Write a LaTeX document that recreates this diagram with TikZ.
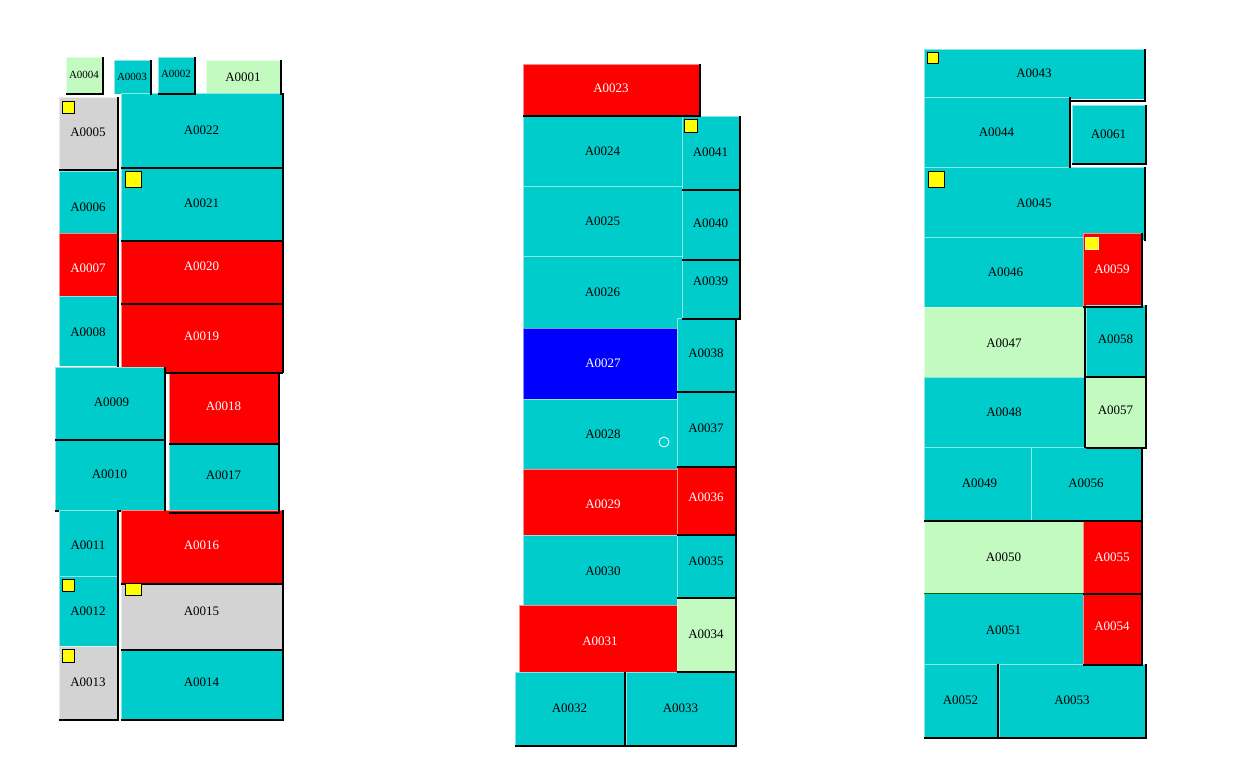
\documentclass[tikz,border=0pt]{standalone}
\usepackage{fontspec}
\setmainfont{Liberation Serif}
\definecolor{cyanc}{RGB}{0,204,204}
\definecolor{redc}{RGB}{255,0,0}
\definecolor{lgreen}{RGB}{194,250,192}
\definecolor{grayc}{RGB}{211,211,211}
\definecolor{bluec}{RGB}{0,0,255}
\definecolor{yell}{RGB}{255,255,0}
\pgfdeclarelayer{sh}
\pgfdeclarelayer{top}
\pgfsetlayers{main,sh,top}
\newcommand\lblsize{\fontsize{13}{15}\selectfont}
\tikzset{
  fcy/.style={fill=cyanc}, tcy/.style={text=black},
  frd/.style={fill=redc},  trd/.style={text=white},
  flg/.style={fill=lgreen},tlg/.style={text=black},
  fgy/.style={fill=grayc}, tgy/.style={text=black},
  fbl/.style={fill=bluec}, tbl/.style={text=white},
  hilite/.style={draw=white, draw opacity=0.55, line width=1pt},
  sdw/.style={draw=black, line width=2pt},
  lbl/.style={font=\lblsize, inner sep=0pt},
  marker/.style={draw=black, fill=yell, line width=0.8pt},
}
\newcommand\sdwRB[4]{\draw[sdw] (#3+1,#2) -- (#3+1,#4+1) -- (#1,#4+1);}
\newcommand\sdwR[4]{\draw[sdw] (#3+1,#2) -- (#3+1,#4+1);}
\newcommand\sdwB[4]{\draw[sdw] (#3+1,#4+1) -- (#1,#4+1);}
\newcommand\sdwG[4]{\draw[draw=green!40!black, line width=1pt] (#3,#4) -- (#1,#4);}
\newcommand\sdwN[4]{}
\newcommand\room[9]{%
  \fill[f#6] (#2,#3) rectangle (#4,#5);
  \draw[hilite] (#2+0.5,#5) -- (#2+0.5,#3+0.5) -- (#4,#3+0.5);
  \begin{pgfonlayer}{sh}\csname sdw#7\endcsname{#2}{#3}{#4}{#5}\end{pgfonlayer}%
  \begin{pgfonlayer}{top}\node[lbl,t#6] (#1) at ({(#2+#4)/2+#8},{(#3+#5)/2+#9}) {#1};\end{pgfonlayer}%
}
\begin{document}
\begin{tikzpicture}[x=1pt,y=-1pt]
\useasboundingbox[fill=white] (0,0) rectangle (1251,780);
% ---------- left block ----------
\renewcommand\lblsize{\fontsize{11}{13}\selectfont}
\room{A0004}{66}{57}{102}{93}{lg}{RB}{0}{0}
\room{A0003}{114}{60}{150}{94}{cy}{R}{0}{0}
\room{A0002}{158}{57}{194}{93}{cy}{RB}{0}{-1}
\renewcommand\lblsize{\fontsize{13}{15}\selectfont}
\room{A0001}{206}{60}{280}{94}{lg}{R}{0}{0}
\room{A0005}{59}{97}{117}{169}{gy}{RB}{0}{-1}
\room{A0022}{121}{93}{282}{167}{cy}{RB}{0}{0}
\room{A0021}{121}{167}{282}{240}{cy}{RB}{0}{0}
\room{A0006}{59}{171}{117}{233}{cy}{R}{0}{5}
\room{A0007}{59}{233}{117}{296}{rd}{R}{0}{4}
\room{A0020}{121}{240}{282}{303}{rd}{RB}{0}{-5}
\room{A0019}{121}{303}{282}{372}{rd}{R}{0}{-1}
\begin{pgfonlayer}{sh}\draw[sdw] (283,373) -- (164,373);\end{pgfonlayer}
\room{A0008}{59}{296}{117}{366}{cy}{R}{0}{1}
\room{A0009}{55}{367}{164}{439}{cy}{RB}{2}{-1}
\room{A0018}{169}{373}{278}{443}{rd}{RB}{0}{-2}
\room{A0010}{55}{439}{164}{510}{cy}{R}{0}{0}
\begin{pgfonlayer}{sh}\draw[sdw] (55,511) -- (59,511);\draw[sdw] (117,511) -- (121,511);\end{pgfonlayer}
\room{A0017}{169}{443}{278}{512}{cy}{RB}{0}{-2}
\room{A0011}{59}{510}{117}{576}{cy}{R}{0}{2}
\room{A0016}{121}{510}{282}{583}{rd}{RB}{0}{-1}
\room{A0012}{59}{576}{117}{646}{cy}{R}{0}{0}
\room{A0015}{121}{583}{282}{649}{gy}{RB}{0}{-5}
\room{A0013}{59}{646}{117}{719}{gy}{RB}{0}{0}
\room{A0014}{121}{649}{282}{719}{cy}{RB}{0}{-2}
% ---------- middle block ----------
\room{A0023}{523}{64}{699}{115}{rd}{RB}{0}{-1}
\room{A0024}{523}{115}{682}{186}{cy}{N}{0}{1}
\room{A0025}{523}{186}{682}{256}{cy}{N}{0}{0}
\room{A0026}{523}{256}{682}{328}{cy}{N}{0}{0}
\room{A0041}{682}{116}{739}{189}{cy}{RB}{0}{0}
\room{A0040}{682}{189}{739}{259}{cy}{RB}{0}{-1}
\room{A0039}{682}{259}{739}{318}{cy}{RB}{0}{-7}
\room{A0027}{523}{328}{677}{399}{bl}{N}{3}{0}
\room{A0038}{677}{318}{735}{391}{cy}{RB}{0}{-1}
\room{A0028}{523}{399}{677}{469}{cy}{N}{3}{0}
\room{A0037}{677}{391}{735}{466}{cy}{RB}{0}{0}
\room{A0029}{523}{469}{677}{535}{rd}{N}{3}{2}
\room{A0036}{677}{466}{735}{534}{rd}{RB}{0}{-3}
\room{A0030}{523}{535}{677}{605}{cy}{N}{3}{1}
\room{A0035}{677}{534}{735}{597}{cy}{RB}{0}{-4}
\room{A0031}{519}{605}{677}{672}{rd}{N}{2}{3}
\room{A0034}{677}{597}{735}{671}{lg}{RB}{0}{0}
\room{A0032}{515}{672}{624}{745}{cy}{RB}{0}{0}
\room{A0033}{626}{672}{735}{745}{cy}{RB}{0}{0}
% ---------- right block ----------
\room{A0043}{924}{49}{1144}{99}{cy}{R}{0}{-1}
\begin{pgfonlayer}{sh}\draw[sdw] (1070,101) -- (1146,101);\end{pgfonlayer}
\room{A0044}{924}{97}{1069}{167}{cy}{R}{0}{0}
\room{A0061}{1072}{105}{1145}{163}{cy}{RB}{0}{0}
\room{A0045}{924}{167}{1144}{240}{cy}{R}{0}{0}
\room{A0046}{924}{237}{1083}{307}{cy}{N}{2}{0}
\room{A0059}{1083}{233}{1141}{306}{rd}{RB}{0}{0}
\room{A0047}{924}{307}{1084}{377}{lg}{R}{0}{1}
\room{A0058}{1086}{305}{1145}{376}{cy}{RB}{0}{-1}
\room{A0048}{924}{377}{1084}{447}{cy}{R}{0}{0}
\room{A0057}{1086}{376}{1145}{447}{lg}{RB}{0}{-1}
\room{A0049}{924}{447}{1031}{520}{cy}{B}{2}{0}
\room{A0056}{1031}{447}{1141}{520}{cy}{RB}{0}{0}
\room{A0050}{924}{521}{1083}{593}{lg}{G}{0}{0}
\room{A0055}{1083}{521}{1141}{593}{rd}{RB}{0}{0}
\room{A0051}{924}{593}{1083}{664}{cy}{N}{0}{2}
\room{A0054}{1083}{593}{1141}{664}{rd}{RB}{0}{-2}
\room{A0052}{924}{664}{997}{737}{cy}{RB}{0}{0}
\room{A0053}{999}{664}{1145}{737}{cy}{RB}{0}{0}
% ---------- markers ----------
\begin{pgfonlayer}{top}
\draw[marker] (62,101) rectangle (74,113);
\draw[marker] (125,171) rectangle (141,187);
\draw[marker] (62,579) rectangle (74,591);
\draw[marker] (125,583) rectangle (141,595);
\draw[marker] (62,649) rectangle (74,662);
\draw[marker] (684,119) rectangle (697,132);
\draw[marker] (927,52) rectangle (938,63);
\draw[marker] (928,171) rectangle (944,187);
\draw[marker, draw=white!70!yellow] (1085,237) rectangle (1098,249);
\draw[white, line width=0.8pt] (664,442) circle[radius=5pt];
\end{pgfonlayer}
\end{tikzpicture}
\end{document}
